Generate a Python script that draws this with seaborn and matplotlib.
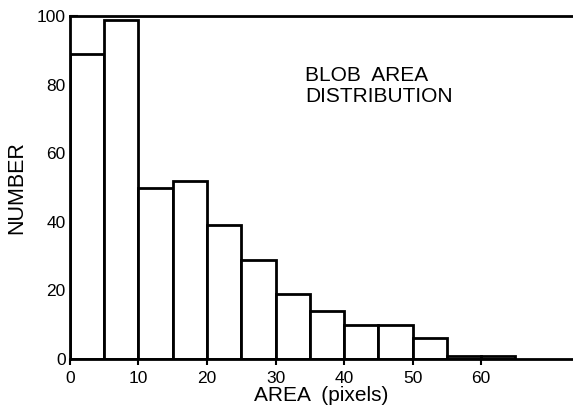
import matplotlib
matplotlib.use("Agg")
import matplotlib.pyplot as plt
import seaborn as sns
import numpy as np

bin_edges = [0, 5, 10, 15, 20, 25, 30, 35, 40, 45, 50, 55, 60, 65]
counts = [89, 99, 50, 52, 39, 29, 19, 14, 10, 10, 6, 1, 1]
x_ticks = [0, 10, 20, 30, 40, 50, 60]
y_ticks = [0, 20, 40, 60, 80, 100]
title_text = "BLOB  AREA\nDISTRIBUTION"

sns.set_style("white")
plt.rcParams['font.family'] = ['Liberation Sans', 'DejaVu Sans']
plt.rcParams['text.color'] = 'black'
plt.rcParams['axes.labelcolor'] = 'black'
plt.rcParams['xtick.color'] = 'black'
plt.rcParams['ytick.color'] = 'black'

centers = [(bin_edges[i] + bin_edges[i + 1]) / 2 for i in range(len(counts))]

fig = plt.figure(figsize=(5.73, 4.15), dpi=100)
ax = fig.add_axes([0.122, 0.135, 0.878, 0.826])

sns.histplot(x=centers, weights=counts, bins=bin_edges, ax=ax,
             color="white", edgecolor="black", linewidth=2.0, alpha=1.0)

ax.set_xlim(0, 73.4)
ax.set_ylim(0, 100)
ax.set_xticks(x_ticks)
ax.set_yticks(y_ticks)
ax.tick_params(axis="x", bottom=True, direction="out", length=4, width=1.5,
               labelsize=12.5, pad=5, colors="black")
ax.tick_params(axis="y", left=True, direction="in", length=6, width=1.5,
               labelsize=12.5, pad=3, colors="black")

for side in ["left", "bottom", "top"]:
    ax.spines[side].set_visible(True)
    ax.spines[side].set_linewidth(2.0)
    ax.spines[side].set_color("black")
ax.spines["right"].set_visible(False)

ax.set_xlabel("AREA  (pixels)", fontsize=15, labelpad=0)
ax.set_ylabel("NUMBER", fontsize=15.5, labelpad=7)

ax.text(0.467, 0.855, title_text, transform=ax.transAxes, fontsize=15,
        va="top", ha="left", linespacing=1.12, color="black")

fig.savefig("out.png", dpi=100)
